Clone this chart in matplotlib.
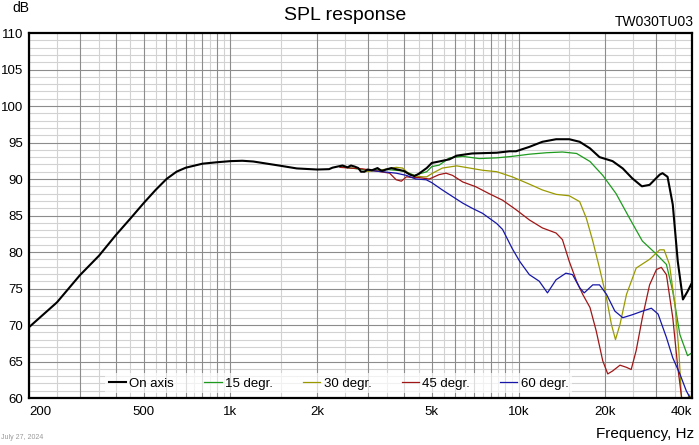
import matplotlib
matplotlib.use("Agg")
import matplotlib.pyplot as plt
import numpy as np

plt.rcParams['font.family'] = ['Liberation Sans', 'DejaVu Sans']

# On axis
f_0 = [200, 250, 300, 350, 400, 450, 500, 550, 600, 650, 700, 800, 900, 1000,
       1100, 1200, 1500, 1700, 2000, 2200, 2260, 2350, 2450, 2550, 2620, 2700,
       2780, 2840, 2920, 2990, 3100, 3240, 3350, 3470, 3620, 3800, 4000, 4200,
       4350, 4500, 4800, 5000, 5300, 5760, 6100, 6900, 8400, 9300, 9800, 10900,
       12100, 13500, 15000, 16300, 17700, 19100, 21200, 23000, 24800, 26800,
       28500, 30900, 31600, 32900, 34300, 35700, 37200, 38600, 40000]
db_0 = [69.7, 73.1, 76.8, 79.5, 82.3, 84.6, 86.7, 88.5, 90.0, 91.0, 91.55, 92.1,
        92.3, 92.45, 92.5, 92.4, 91.8, 91.45, 91.3, 91.35, 91.55, 91.7, 91.85,
        91.6, 91.85, 91.7, 91.5, 91.0, 91.0, 91.3, 91.2, 91.5, 91.1, 91.3, 91.5,
        91.3, 91.1, 90.6, 90.4, 90.7, 91.5, 92.2, 92.4, 92.7, 93.2, 93.5, 93.6,
        93.8, 93.8, 94.4, 95.1, 95.45, 95.45, 95.1, 94.2, 93.0, 92.45, 91.45,
        90.1, 89.0, 89.2, 90.6, 90.8, 90.3, 86.5, 78.7, 73.5, 74.6, 75.8]

# 15 degr.
f_15 = [2400, 3000, 3500, 4000, 4350, 4800, 5000, 5300, 5760, 6400, 7300, 8400,
        9500, 10900, 12500, 14200, 15900, 17700, 19600, 21800, 24300, 26900,
        30100, 32600, 34300, 36300, 38600, 40000]
db_15 = [91.7, 91.2, 91.3, 91.1, 90.5, 91.0, 91.7, 91.9, 92.9, 93.1, 92.8, 92.9,
         93.1, 93.4, 93.6, 93.7, 93.5, 92.4, 90.5, 88.0, 84.6, 81.5, 79.7, 78.3,
         74.6, 68.7, 65.8, 66.2]

# 30 degr.
f_30 = [2900, 3300, 3760, 3960, 4170, 4400, 4650, 4800, 5030, 5440, 6100, 6770,
        7500, 8400, 9500, 10900, 12100, 13500, 15000, 16300, 17200, 18100, 19100,
        20200, 21000, 21700, 22500, 23700, 25600, 28500, 30900, 32000, 33400,
        34900, 36000, 36900, 37800, 39000, 40000]
db_30 = [91.0, 91.2, 91.6, 91.5, 90.7, 90.4, 90.3, 90.3, 90.8, 91.5, 91.8, 91.5,
         91.2, 91.0, 90.3, 89.3, 88.5, 87.9, 87.7, 86.9, 84.6, 81.5, 77.8, 73.7,
         70.1, 68.0, 70.1, 74.2, 77.8, 79.0, 80.3, 80.3, 78.3, 72.8, 66.5, 59.0,
         57.5, 60.5, 59.8]

# 45 degr.
f_45 = [2400, 2590, 2870, 3200, 3570, 3760, 3920, 4080, 4300, 4500, 4900, 5300,
        5600, 5900, 6400, 7100, 7900, 8800, 9800, 10900, 12100, 13500, 14200,
        15000, 15900, 16700, 17700, 18600, 19600, 20400, 21200, 22500, 23700,
        24600, 25600, 26900, 28500, 30100, 31300, 32600, 34300, 35700, 36800,
        37500]
db_45 = [91.6, 91.5, 91.4, 91.1, 90.8, 89.9, 89.7, 90.3, 90.2, 90.2, 90.0, 90.6,
         90.8, 90.5, 89.6, 88.95, 88.0, 87.1, 85.8, 84.4, 83.3, 82.6, 81.7, 78.7,
         76.0, 74.2, 72.4, 69.2, 65.1, 63.3, 63.7, 64.5, 64.2, 63.9, 66.5, 71.0,
         75.5, 77.6, 77.9, 76.9, 71.0, 64.2, 60.1, 57.0]

# 60 degr.
f_60 = [3000, 3370, 3760, 4080, 4400, 4780, 5000, 5440, 5900, 6400, 6900, 7500,
        8400, 8800, 9500, 10100, 10900, 11800, 12600, 13500, 14600, 15400, 16300,
        16900, 18100, 19100, 20200, 21600, 23000, 24800, 26900, 28900, 30500,
        32600, 34300, 36300, 38200, 40000]
db_60 = [91.2, 91.0, 90.8, 90.5, 90.0, 89.9, 89.5, 88.5, 87.6, 86.7, 86.0, 85.3,
         83.9, 83.1, 80.5, 78.7, 76.9, 76.0, 74.4, 76.2, 77.1, 76.9, 75.1, 74.4,
         75.5, 75.5, 74.2, 71.9, 71.0, 71.4, 71.9, 72.3, 71.5, 68.3, 65.5, 63.3,
         61.0, 59.5]

x_ticks = [200, 500, 1000, 2000, 5000, 10000, 20000, 40000]
x_labels = ['200', '500', '1k', '2k', '5k', '10k', '20k', '40k']
y_ticks = [60, 65, 70, 75, 80, 85, 90, 95, 100, 105, 110]

fig = plt.figure(figsize=(6.99, 4.45), dpi=100)
ax = fig.add_axes([0.0415, 0.1056, 0.9485, 0.8202])
ax.set_xscale('log')
ax.set_xlim(200, 40000)
ax.set_ylim(60, 110)

# grid: dark at 100/1000/10000 multiples, light at half steps
major_v = list(range(200, 1001, 100)) + list(range(2000, 10001, 1000)) + [20000, 30000]
minor_v = list(range(250, 1000, 100)) + list(range(1500, 10000, 1000)) + [15000, 25000, 35000]
for v in minor_v:
    ax.axvline(v, color='#d2d2d2', lw=0.8, zorder=1)
for v in major_v:
    ax.axvline(v, color='#8c8c8c', lw=0.8, zorder=1.1)
for h in range(61, 110):
    if h % 5:
        ax.axhline(h, color='#d2d2d2', lw=0.8, zorder=1)
for h in range(65, 110, 5):
    ax.axhline(h, color='#8c8c8c', lw=0.8, zorder=1.1)

ax.plot(f_15, db_15, color='#1e9a1e', lw=0.9, label='15 degr.', zorder=3)
ax.plot(f_30, db_30, color='#9a9a00', lw=0.9, label='30 degr.', zorder=3)
ax.plot(f_45, db_45, color='#a01616', lw=0.9, label='45 degr.', zorder=3)
ax.plot(f_60, db_60, color='#1616a8', lw=0.9, label='60 degr.', zorder=3)
ax.plot(f_0, db_0, color='black', lw=1.5, label='On axis', zorder=4)

handles, labels = ax.get_legend_handles_labels()
order = [4, 0, 1, 2, 3]
leg = ax.legend([handles[i] for i in order], [labels[i] for i in order],
                loc='center', bbox_to_anchor=(0.467, 0.04), ncol=5,
                frameon=True, fontsize=9.5, handlelength=1.3, handletextpad=0.25,
                columnspacing=2.3, borderpad=0.3, fancybox=False)
leg.get_frame().set_facecolor('white')
leg.get_frame().set_alpha(0.7)
leg.get_frame().set_linewidth(0)
leg.set_zorder(5)

ax.set_xticks(x_ticks)
ax.set_xticklabels(x_labels)
ax.xaxis.set_minor_locator(matplotlib.ticker.NullLocator())
ax.set_yticks(y_ticks)
ax.tick_params(axis='both', length=0, labelsize=9.5)
ax.tick_params(axis='x', pad=6)
ax.tick_params(axis='y', pad=4)
tl = ax.get_xticklabels()
tl[0].set_ha('left')
tl[-1].set_ha('right')

for s in ax.spines.values():
    s.set_linewidth(1.6)
    s.set_color('black')
    s.set_zorder(6)

fig.text(0.494, 0.966, 'SPL response', ha='center', va='center', fontsize=14)
fig.text(0.993, 0.951, 'TW030TU03', ha='right', va='center', fontsize=10)
fig.text(0.017, 0.982, 'dB', ha='left', va='center', fontsize=10)
fig.text(0.993, 0.025, 'Frequency, Hz', ha='right', va='center', fontsize=11)
fig.text(0.002, 0.016, 'July 27, 2024', ha='left', va='center', fontsize=5, color='#999999')

fig.savefig('out.png', dpi=100)
